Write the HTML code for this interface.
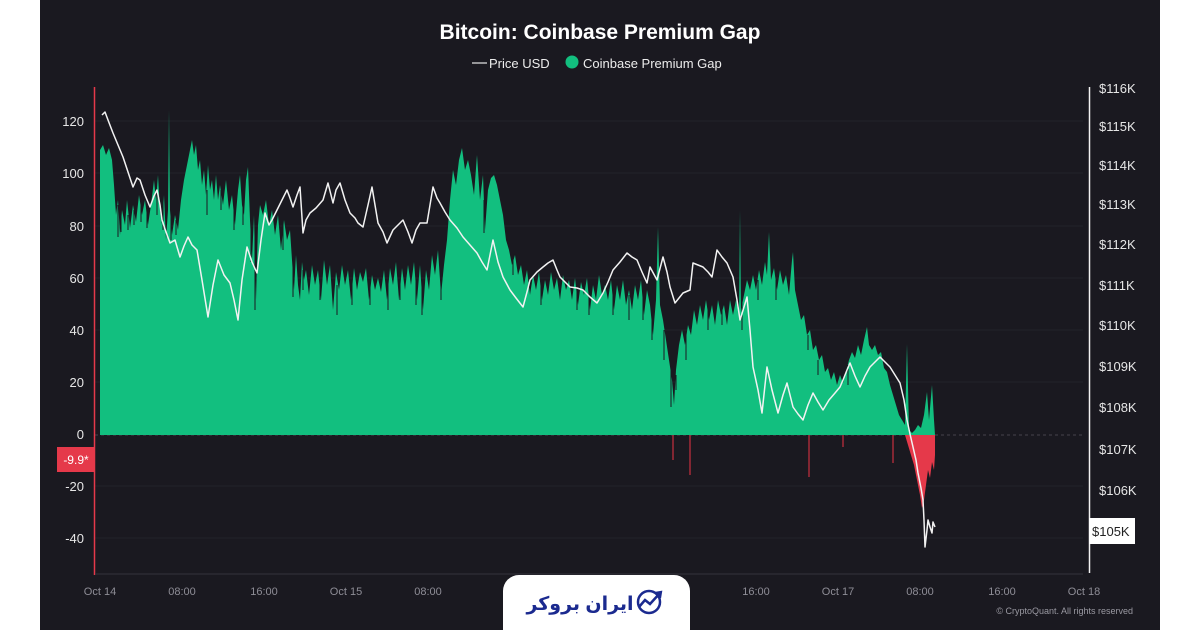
<!DOCTYPE html>
<html><head><meta charset="utf-8"><style>
html,body{margin:0;padding:0;background:#fff;width:1200px;height:630px;overflow:hidden}
svg{display:block}
text{font-family:"Liberation Sans","DejaVu Sans",sans-serif}
</style></head><body>
<svg width="1200" height="630" viewBox="0 0 1200 630" xmlns="http://www.w3.org/2000/svg">
<rect x="0" y="0" width="1200" height="630" fill="#ffffff"/>
<rect x="40" y="0" width="1120" height="630" fill="#1a1920"/>

<!-- grid -->
<g stroke="#23222a" stroke-width="1">
<line x1="95" y1="121" x2="1083" y2="121"/>
<line x1="95" y1="173" x2="1083" y2="173"/>
<line x1="95" y1="226" x2="1083" y2="226"/>
<line x1="95" y1="278" x2="1083" y2="278"/>
<line x1="95" y1="330" x2="1083" y2="330"/>
<line x1="95" y1="382" x2="1083" y2="382"/>
<line x1="95" y1="486" x2="1083" y2="486"/>
<line x1="95" y1="538" x2="1083" y2="538"/>
</g>
<line x1="95" y1="435" x2="1083" y2="435" stroke="#45424c" stroke-width="1" stroke-dasharray="3,3"/>

<!-- green area -->
<polygon fill="#12bf7f" points="100,435 100,150 103,145 106,155 109,148 112,160 114,185 116,215 118,200 120,235 122,210 125,225 127,200 130,228 133,205 136,222 139,195 142,215 145,200 148,225 151,205 154,180 156,200 158,175 160,210 162,225 164,195 166,240 168,210 169,110 170,210 172,235 175,215 178,230 181,200 184,180 187,165 190,150 192,140 194,155 196,145 198,170 200,160 202,185 204,170 206,195 208,165 210,190 212,180 214,200 216,175 218,200 220,185 223,205 226,180 229,210 232,195 235,225 238,190 240,175 242,205 244,215 246,180 248,167 250,220 252,260 254,215 256,300 258,225 260,205 263,215 266,200 269,225 272,210 275,235 278,215 281,250 284,220 287,240 290,230 292,260 294,290 296,255 298,285 300,300 302,262 304,280 306,270 309,295 312,265 315,285 318,270 321,300 324,260 327,285 330,265 333,310 336,272 339,290 342,265 345,285 348,270 351,300 354,268 357,290 360,272 363,282 366,268 369,300 372,275 375,290 378,278 381,292 384,270 387,300 390,268 393,285 396,262 399,300 402,268 405,290 408,265 411,285 414,262 417,300 420,265 423,310 426,270 429,290 432,255 435,275 438,250 441,295 444,265 447,240 450,200 453,170 456,185 459,160 462,148 465,170 468,160 471,175 474,195 477,155 480,200 483,175 485,230 488,190 491,178 494,175 497,185 500,200 503,215 506,240 509,250 512,265 515,255 518,275 521,265 524,285 527,270 530,295 533,275 536,290 539,272 542,300 545,280 548,295 551,272 554,290 557,278 560,300 563,275 566,290 569,280 572,300 575,278 578,305 581,282 584,295 587,278 590,310 593,285 596,300 599,275 602,295 605,285 608,300 611,280 614,310 617,285 620,300 623,280 626,305 629,290 632,310 635,285 638,300 641,280 644,315 647,290 650,305 653,335 656,300 658,227 660,305 663,320 666,340 669,360 672,380 674,405 676,370 679,345 682,330 685,345 688,325 691,335 694,310 697,325 700,305 703,320 706,300 709,320 712,305 715,325 718,300 721,315 724,305 727,325 730,300 733,315 736,300 739,315 740,210 741,310 744,295 747,280 750,290 753,275 756,290 759,270 762,285 765,262 767,275 769,232 771,280 774,268 777,290 780,270 783,285 786,275 789,295 792,260 793,252 795,290 798,305 801,320 804,315 807,335 810,330 813,350 816,345 819,360 822,355 825,372 828,368 831,380 834,372 837,385 840,375 843,383 846,372 849,360 852,352 855,358 858,345 861,355 864,340 867,327 869,345 872,350 875,345 878,355 881,352 884,368 887,372 890,385 893,395 896,405 899,415 902,420 905,425 907,344 909,430 912,433 915,430 918,425 921,428 924,415 927,392 929,420 932,385 934,420 935,435"/>

<!-- dark dips inside green -->
<path fill="none" stroke="#1a1920" stroke-width="1" d="M118,205V237 M121,210V232 M128,215V230 M134,210V225 M141,205V222 M147,210V228 M157,190V215 M163,200V230 M171,215V240 M176,220V235 M207,190V215 M221,190V210 M234,200V230 M243,205V225 M251,225V262 M255,230V310 M283,225V250 M293,265V297 M303,270V290 M320,280V300 M337,285V315 M352,280V305 M370,280V305 M388,280V310 M400,280V300 M416,280V305 M422,285V315 M441,270V300 M484,200V233 M513,260V275 M541,285V305 M577,290V310 M589,290V315 M613,290V315 M629,295V320 M643,295V320 M652,310V340 M664,330V360 M671,370V407 M676,375V390 M686,335V360 M708,310V330 M722,310V325 M742,300V330 M758,280V300 M776,280V300 M808,335V350 M818,360V375 M848,365V385"/>

<!-- red area -->
<polygon fill="#e5394a" points="905,435 908,445 911,455 914,465 917,480 920,495 922,508 924,500 926,485 928,470 930,478 932,462 934,470 935,455 935,435"/>
<g stroke="#c8303f" stroke-width="1.2">
<line x1="673" y1="435" x2="673" y2="460"/>
<line x1="690" y1="435" x2="690" y2="475"/>
<line x1="809" y1="435" x2="809" y2="477"/>
<line x1="843" y1="435" x2="843" y2="447"/>
<line x1="893" y1="435" x2="893" y2="463"/>
</g>

<!-- price line -->
<polyline fill="none" stroke="#f2f2f2" stroke-width="1.5" stroke-linejoin="round" points="102,115 105,112 108,120 113,133 118,145 123,157 128,172 133,187 137,178 140,180 145,195 150,207 154,196 157,190 160,205 162,220 166,232 170,243 175,240 180,257 184,246 188,237 192,245 197,250 202,280 208,317 213,285 218,260 224,275 230,283 234,300 238,320 242,280 247,247 252,262 257,273 261,240 265,213 269,225 272,220 277,210 282,200 287,190 290,198 293,207 297,195 300,187 303,233 306,220 310,213 316,208 323,200 328,183 333,203 336,190 340,183 345,200 350,213 355,218 358,223 363,227 368,205 372,187 375,205 378,223 383,232 387,243 393,230 398,225 403,220 408,232 412,243 416,230 420,223 427,223 430,205 433,187 437,198 440,203 445,212 450,220 457,228 463,237 470,245 477,253 482,262 487,270 490,255 493,240 498,262 503,277 510,290 516,298 523,307 527,292 530,280 537,272 543,267 548,263 553,260 557,270 560,277 565,282 570,287 577,288 583,290 590,297 597,303 600,298 603,293 608,282 613,270 620,262 627,253 632,257 637,260 642,272 647,283 650,267 657,280 663,257 667,272 670,287 675,303 679,298 683,293 690,290 693,263 698,265 703,267 708,272 712,277 717,250 722,257 727,263 733,277 737,300 740,320 744,307 747,297 750,330 753,367 758,390 762,413 765,385 767,367 772,390 778,413 783,395 787,383 790,395 793,407 798,414 803,420 808,405 813,393 818,402 823,410 829,400 835,393 840,387 843,380 847,370 850,363 855,376 860,387 865,376 870,367 875,362 880,357 885,362 890,367 895,375 900,383 904,400 907,420 910,434 913,447 916,460 918,473 921,488 923,500 924,520 925,547 927,530 928,520 930,527 932,533 933,522 935,527"/>

<!-- axes -->
<line x1="94.5" y1="87" x2="94.5" y2="575" stroke="#e5394a" stroke-width="1.5"/>
<line x1="1089.5" y1="87" x2="1089.5" y2="573" stroke="#f2f2f2" stroke-width="1.5"/>
<line x1="95" y1="574" x2="1083" y2="574" stroke="#34333d" stroke-width="1"/>

<!-- title & legend -->
<text x="600" y="39" text-anchor="middle" font-size="21" font-weight="bold" fill="#ffffff">Bitcoin: Coinbase Premium Gap</text>
<line x1="472" y1="63" x2="487" y2="63" stroke="#e8e8e8" stroke-width="1.2"/>
<text x="489" y="68" font-size="13" fill="#ececec">Price USD</text>
<circle cx="572" cy="62" r="6.5" fill="#12bf7f"/>
<text x="583" y="68" font-size="13" fill="#ececec">Coinbase Premium Gap</text>

<!-- left ticks -->
<g font-size="13" fill="#e6e6e6" text-anchor="end">
<text x="84" y="126">120</text>
<text x="84" y="178">100</text>
<text x="84" y="231">80</text>
<text x="84" y="283">60</text>
<text x="84" y="335">40</text>
<text x="84" y="387">20</text>
<text x="84" y="439">0</text>
<text x="84" y="491">-20</text>
<text x="84" y="543">-40</text>
</g>
<rect x="57" y="447" width="38" height="25" fill="#e5394a"/>
<text x="76" y="464" text-anchor="middle" font-size="12" fill="#ffffff">-9.9*</text>

<!-- right ticks -->
<g font-size="13" fill="#e6e6e6">
<text x="1099" y="93">$116K</text>
<text x="1099" y="131">$115K</text>
<text x="1099" y="170">$114K</text>
<text x="1099" y="209">$113K</text>
<text x="1099" y="249">$112K</text>
<text x="1099" y="290">$111K</text>
<text x="1099" y="330">$110K</text>
<text x="1099" y="371">$109K</text>
<text x="1099" y="412">$108K</text>
<text x="1099" y="454">$107K</text>
<text x="1099" y="495">$106K</text>
</g>
<rect x="1089" y="518" width="46" height="26" fill="#ffffff"/>
<text x="1092" y="536" font-size="13" fill="#222222">$105K</text>

<!-- x ticks -->
<g font-size="11" fill="#8e8d96" text-anchor="middle">
<text x="100" y="595">Oct 14</text>
<text x="182" y="595">08:00</text>
<text x="264" y="595">16:00</text>
<text x="346" y="595">Oct 15</text>
<text x="428" y="595">08:00</text>
<text x="756" y="595">16:00</text>
<text x="838" y="595">Oct 17</text>
<text x="920" y="595">08:00</text>
<text x="1002" y="595">16:00</text>
<text x="1084" y="595">Oct 18</text>
</g>
<text x="1133" y="614" text-anchor="end" font-size="9" fill="#9a99a2">© CryptoQuant. All rights reserved</text>

<!-- logo -->
<rect x="503" y="575" width="187" height="70" rx="16" fill="#ffffff"/>
<text x="580" y="610" text-anchor="middle" font-size="19" font-weight="bold" fill="#1b2a8f" font-family="DejaVu Sans, sans-serif">ایران بروکر</text>
<circle cx="649" cy="602" r="11" fill="none" stroke="#1b2a8f" stroke-width="2.5"/>
<polyline points="639,607 645,600 650,604 660,593" fill="none" stroke="#1b2a8f" stroke-width="2.5"/>
<polyline points="655,593 661,592 660,598" fill="none" stroke="#1b2a8f" stroke-width="2.2"/>
</svg>
</body></html>
